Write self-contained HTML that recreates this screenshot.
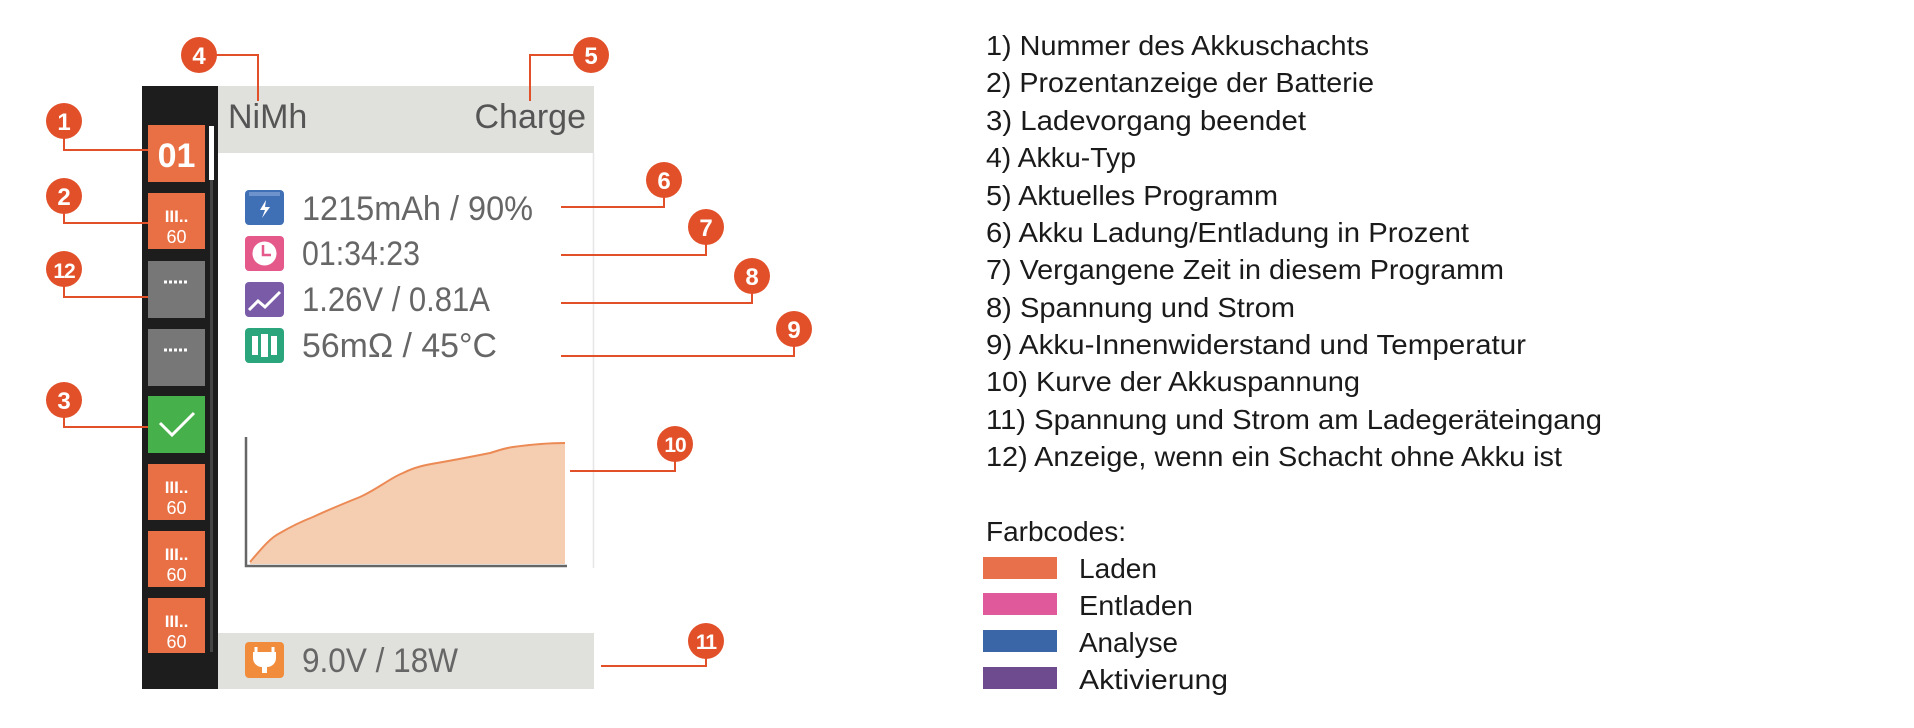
<!DOCTYPE html>
<html><head><meta charset="utf-8"><style>html,body{margin:0;padding:0;background:#fff}svg{display:block}</style></head>
<body>
<svg width="1914" height="728" viewBox="0 0 1914 728" xmlns="http://www.w3.org/2000/svg" font-family="Liberation Sans, DejaVu Sans, sans-serif">
<rect width="1914" height="728" fill="#fff"/>
<rect x="142" y="86" width="76" height="603" fill="#1d1d1d"/>
<rect x="218" y="86" width="376" height="67" fill="#e0e0dc"/>
<line x1="593.5" y1="153" x2="593.5" y2="568" stroke="#e6e6e6" stroke-width="1.5"/>
<rect x="218" y="633" width="376" height="56" fill="#e0e0dc"/>
<rect x="210" y="126" width="3" height="526" fill="#444"/>
<rect x="209" y="126" width="5" height="54" fill="#fff"/>
<rect x="148" y="125" width="57" height="57" fill="#e87044"/>
<text x="176.5" y="167" font-size="34" font-weight="bold" fill="#fff" text-anchor="middle">01</text>
<g fill="#e87044">
<rect x="148" y="193" width="57" height="56"/>
<rect x="148" y="464" width="57" height="56"/>
<rect x="148" y="531" width="57" height="56"/>
<rect x="148" y="598" width="57" height="55"/>
</g>
<g fill="#fff">
<text x="176.5" y="222" font-size="17" font-weight="bold" text-anchor="middle">III..</text>
<text x="176.5" y="243" font-size="18" text-anchor="middle">60</text>
<text x="176.5" y="493" font-size="17" font-weight="bold" text-anchor="middle">III..</text>
<text x="176.5" y="514" font-size="18" text-anchor="middle">60</text>
<text x="176.5" y="560" font-size="17" font-weight="bold" text-anchor="middle">III..</text>
<text x="176.5" y="581" font-size="18" text-anchor="middle">60</text>
<text x="176.5" y="627" font-size="17" font-weight="bold" text-anchor="middle">III..</text>
<text x="176.5" y="648" font-size="18" text-anchor="middle">60</text>
</g>
<rect x="148" y="261" width="57" height="57" fill="#777"/>
<rect x="148" y="329" width="57" height="57" fill="#777"/>
<g stroke="#fff" stroke-width="3" stroke-dasharray="3,2"><line x1="164" y1="282" x2="189" y2="282"/><line x1="164" y1="350" x2="189" y2="350"/></g>
<rect x="148" y="396" width="57" height="57" fill="#46b04a"/>
<polyline points="160,423 172,435 194,413" fill="none" stroke="#fff" stroke-width="3"/>
<text x="228" y="128" font-size="34" fill="#555">NiMh</text>
<text x="586" y="128" font-size="34" fill="#555" text-anchor="end">Charge</text>
<rect x="245" y="190" width="39" height="35" rx="4" fill="#3f6fb5"/>
<rect x="249" y="192" width="31" height="4" fill="#6d92cc"/>
<path d="M266 200 l-6 10 h5 l-3 8 l8 -11 h-5 z" fill="#fff"/>
<rect x="245" y="236" width="39" height="35" rx="4" fill="#e5588a"/>
<circle cx="264.5" cy="253.5" r="12" fill="#fff"/><path d="M263 245 v10 h8" stroke="#e5588a" stroke-width="2.5" fill="none"/>
<rect x="245" y="282" width="39" height="35" rx="4" fill="#7a5ba8"/>
<polyline points="249,310 258,301 265,307 280,292" stroke="#fff" stroke-width="3" fill="none"/>
<rect x="245" y="328" width="39" height="35" rx="4" fill="#2aa57c"/>
<g fill="#fff"><rect x="252" y="336" width="6" height="19"/><rect x="261" y="334" width="7" height="23"/><rect x="271" y="336" width="6" height="19"/></g>
<rect x="245" y="642" width="39" height="36" rx="4" fill="#f08c3c"/>
<path d="M256 652 v-5 M273 652 v-5" stroke="#fff" stroke-width="3"/>
<path d="M253 652 h23 v6 a9 9 0 0 1 -9 9 v6 h-5 v-6 a9 9 0 0 1 -9 -9 z" fill="#fff"/>
<g font-size="34" fill="#666">
<text x="302" y="220" textLength="231" lengthAdjust="spacingAndGlyphs">1215mAh / 90%</text>
<text x="302" y="265" textLength="118" lengthAdjust="spacingAndGlyphs">01:34:23</text>
<text x="302" y="311" textLength="188" lengthAdjust="spacingAndGlyphs">1.26V / 0.81A</text>
<text x="302" y="357" textLength="195" lengthAdjust="spacingAndGlyphs">56mΩ / 45°C</text>
<text x="302" y="672" textLength="156" lengthAdjust="spacingAndGlyphs">9.0V / 18W</text>
</g>
<path d="M250,562 C262,548 270,538 280,533 C292,526 300,522 313,517 C330,509 345,503 360,497 C378,489 390,478 403,473 C415,467 425,465 437,463 C460,459 475,456 490,453 C500,450 505,448 513,447 C535,444 550,443 565,443 L565,564 L250,564 Z" fill="#f5cdb0" stroke="none"/>
<path d="M250,562 C262,548 270,538 280,533 C292,526 300,522 313,517 C330,509 345,503 360,497 C378,489 390,478 403,473 C415,467 425,465 437,463 C460,459 475,456 490,453 C500,450 505,448 513,447 C535,444 550,443 565,443" fill="none" stroke="#ec8a55" stroke-width="2"/>
<polyline points="246,437 246,566 567,566" fill="none" stroke="#666" stroke-width="2.5"/>
<g stroke="#e2502a" stroke-width="2" fill="none">
<polyline points="64,121 64,150 148,150"/>
<polyline points="64,196 64,223 148,223"/>
<polyline points="64,269 64,297 148,297"/>
<polyline points="64,400 64,427 148,427"/>
<polyline points="199,55 258,55 258,101"/>
<polyline points="591,55 530,55 530,101"/>
<polyline points="664,180 664,207 561,207"/>
<polyline points="706,227 706,255 561,255"/>
<polyline points="752,276 752,303 561,303"/>
<polyline points="794,329 794,356 561,356"/>
<polyline points="675,444 675,471 570,471"/>
<polyline points="706,641 706,666 601,666"/>
</g>
<g fill="#e2502a">
<circle cx="64" cy="121" r="18"/><circle cx="64" cy="196" r="18"/><circle cx="64" cy="269" r="18"/><circle cx="64" cy="400" r="18"/>
<circle cx="199" cy="55" r="18"/><circle cx="591" cy="55" r="18"/><circle cx="664" cy="180" r="18"/><circle cx="706" cy="227" r="18"/>
<circle cx="752" cy="276" r="18"/><circle cx="794" cy="329" r="18"/><circle cx="675" cy="444" r="18"/><circle cx="706" cy="641" r="18"/>
</g>
<g fill="#fff" font-size="24" font-weight="bold" text-anchor="middle">
<text x="64" y="130">1</text><text x="64" y="205">2</text><text x="64" y="278" font-size="21" letter-spacing="-1">12</text><text x="64" y="409">3</text>
<text x="199" y="64">4</text><text x="591" y="64">5</text><text x="664" y="189">6</text><text x="706" y="236">7</text>
<text x="752" y="285">8</text><text x="794" y="338">9</text><text x="675" y="452" font-size="21" letter-spacing="-1">10</text><text x="706" y="649" font-size="21" letter-spacing="-1">11</text>
</g>
<g font-size="28" fill="#1a1a1a">
<text x="986" y="55" textLength="383" lengthAdjust="spacingAndGlyphs">1) Nummer des Akkuschachts</text>
<text x="986" y="92" textLength="388" lengthAdjust="spacingAndGlyphs">2) Prozentanzeige der Batterie</text>
<text x="986" y="130" textLength="320" lengthAdjust="spacingAndGlyphs">3) Ladevorgang beendet</text>
<text x="986" y="167" textLength="150" lengthAdjust="spacingAndGlyphs">4) Akku-Typ</text>
<text x="986" y="205" textLength="292" lengthAdjust="spacingAndGlyphs">5) Aktuelles Programm</text>
<text x="986" y="242" textLength="483" lengthAdjust="spacingAndGlyphs">6) Akku Ladung/Entladung in Prozent</text>
<text x="986" y="279" textLength="518" lengthAdjust="spacingAndGlyphs">7) Vergangene Zeit in diesem Programm</text>
<text x="986" y="317" textLength="309" lengthAdjust="spacingAndGlyphs">8) Spannung und Strom</text>
<text x="986" y="354" textLength="540" lengthAdjust="spacingAndGlyphs">9) Akku-Innenwiderstand und Temperatur</text>
<text x="986" y="391" textLength="374" lengthAdjust="spacingAndGlyphs">10) Kurve der Akkuspannung</text>
<text x="986" y="429" textLength="616" lengthAdjust="spacingAndGlyphs">11) Spannung und Strom am Ladegeräteingang</text>
<text x="986" y="466" textLength="576" lengthAdjust="spacingAndGlyphs">12) Anzeige, wenn ein Schacht ohne Akku ist</text>
<text x="986" y="541" textLength="140" lengthAdjust="spacingAndGlyphs">Farbcodes:</text>
<text x="1079" y="578" textLength="78" lengthAdjust="spacingAndGlyphs">Laden</text>
<text x="1079" y="615" textLength="114" lengthAdjust="spacingAndGlyphs">Entladen</text>
<text x="1079" y="652" textLength="99" lengthAdjust="spacingAndGlyphs">Analyse</text>
<text x="1079" y="689" textLength="149" lengthAdjust="spacingAndGlyphs">Aktivierung</text>
</g>
<rect x="983" y="557" width="74" height="22" fill="#e8704a"/>
<rect x="983" y="593" width="74" height="22" fill="#e0599a"/>
<rect x="983" y="630" width="74" height="22" fill="#3a66a8"/>
<rect x="983" y="667" width="74" height="22" fill="#6e4a8e"/>
</svg>
</body></html>
